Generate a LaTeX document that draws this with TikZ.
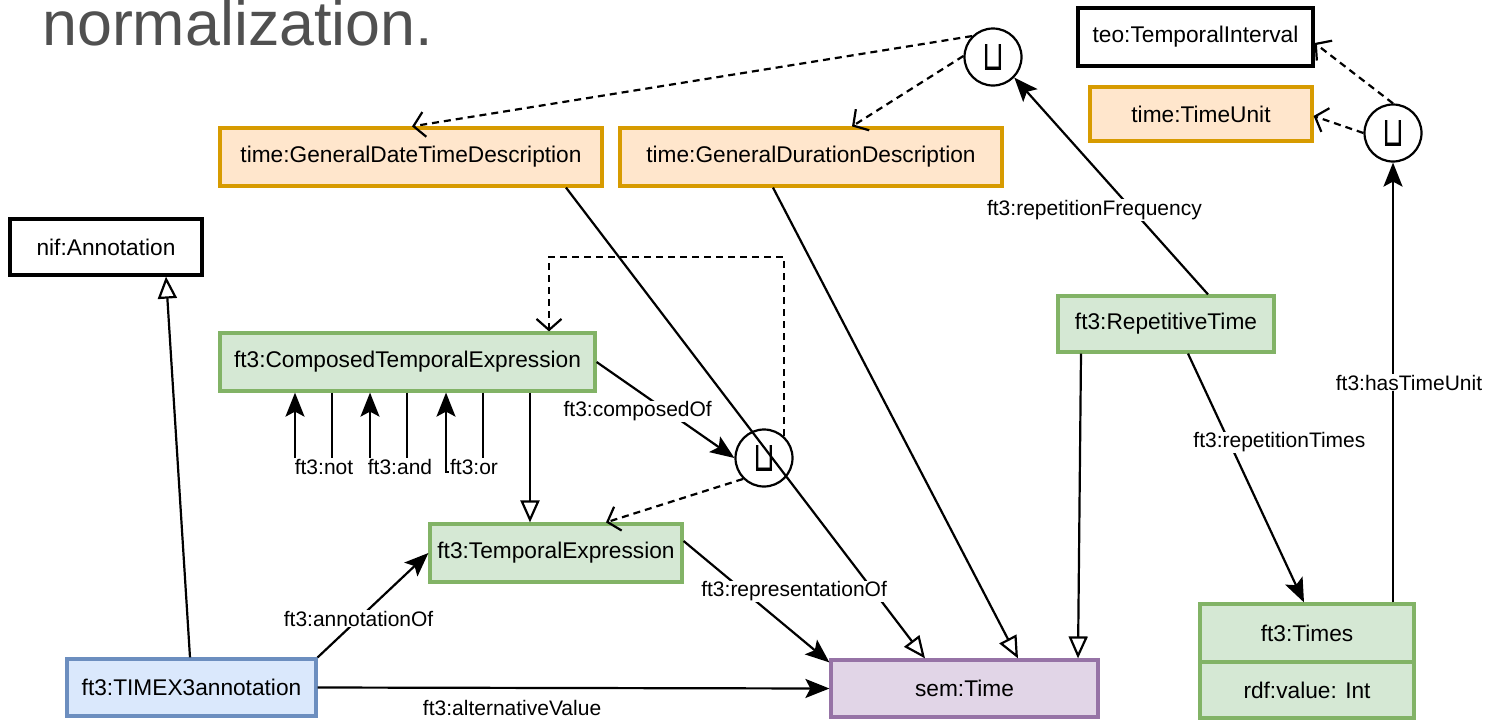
\documentclass[tikz,border=0pt]{standalone}
\usepackage{fontspec}
\setmainfont{Liberation Sans}
\newfontfamily\symfont{DejaVu Sans}
\usetikzlibrary{arrows.meta,calc}

\definecolor{orangeFill}{HTML}{FFE6CC}
\definecolor{orangeLine}{HTML}{D79B00}
\definecolor{greenFill}{HTML}{D5E8D4}
\definecolor{greenLine}{HTML}{82B366}
\definecolor{blueFill}{HTML}{DAE8FC}
\definecolor{blueLine}{HTML}{6C8EBF}
\definecolor{purpleFill}{HTML}{E1D5E7}
\definecolor{purpleLine}{HTML}{9673A6}
\definecolor{titleGray}{HTML}{505050}

\newcommand{\unionsym}{\resizebox{22pt}{26pt}{\symfont ⊔}}

\begin{document}
\begin{tikzpicture}[x=1pt,y=-1pt,
  box/.style={rectangle, line width=3.2pt, inner sep=0pt,
    font=\fontsize{22.7}{26}\selectfont, text=black},
  plainbox/.style={box, draw=black, fill=white},
  orangebox/.style={box, draw=orangeLine, fill=orangeFill},
  greenbox/.style={box, draw=greenLine, fill=greenFill},
  bluebox/.style={box, draw=blueLine, fill=blueFill},
  purplebox/.style={box, draw=purpleLine, fill=purpleFill},
  unionnode/.style={circle, draw=black, line width=2.2pt, minimum size=57pt, inner sep=0pt},
  lbl/.style={font=\fontsize{21}{24}\selectfont, fill=white, inner sep=1pt, text=black},
  edge/.style={line width=2.2pt, draw=black},
  assoc/.style={edge, -{Stealth[length=24pt, width=19pt, inset=5pt]}},
  subclass/.style={edge, -{Triangle[open, length=22pt, width=19pt, fill=white]}},
  unionedge/.style={edge, dash pattern=on 7pt off 5pt,
    -{Straight Barb[length=11pt, width=25pt, line width=2.2pt]}},
]
\useasboundingbox (0,0) rectangle (1499,721);
\fill[white] (0,0) rectangle (1499,721);

% heading fragment
\node[anchor=base west, inner sep=0pt, text=titleGray,
  font=\fontsize{62.8}{70}\selectfont] (title) at (42,45) {normalization.};

% classes
\node[plainbox, minimum width=235pt, minimum height=58pt] (teoTI) at (1195.5,37) {teo:TemporalInterval};
\node[orangebox, minimum width=222pt, minimum height=54pt] (timeTU) at (1201,114) {time:TimeUnit};
\node[orangebox, minimum width=382pt, minimum height=58pt] (gdtd) at (411,157) {time:GeneralDateTimeDescription};
\node[orangebox, minimum width=382pt, minimum height=58pt] (gdd) at (811,157) {time:GeneralDurationDescription};
\node[plainbox, minimum width=192pt, minimum height=56pt] (nifA) at (106,247) {nif:Annotation};
\node[greenbox, minimum width=375pt, minimum height=58pt] (cte) at (407.5,362) {ft3:ComposedTemporalExpression};
\node[greenbox, minimum width=216pt, minimum height=56pt] (rt) at (1166,324) {ft3:RepetitiveTime};
\node[greenbox, minimum width=252pt, minimum height=58pt] (te) at (556,553) {ft3:TemporalExpression};
\node[bluebox, minimum width=249pt, minimum height=57pt] (timex) at (191.5,687.5) {ft3:TIMEX3annotation};
\node[purplebox, minimum width=267pt, minimum height=57pt] (semT) at (964.5,688.5) {sem:Time};
\node[greenbox, minimum width=214pt, minimum height=58pt] (times) at (1307,633) {ft3:Times};
\node[greenbox, minimum width=214pt, minimum height=56pt] (rdfv) at (1307,690) {rdf:value: Int};

% union operators
\node[unionnode] (uTop) at (993,57) {\unionsym};
\node[unionnode] (uRight) at (1393,133) {\unionsym};
\node[unionnode] (uMid) at (764,458) {\unionsym};

% union members
\draw[unionedge] (uTop.135) -- ([xshift=1pt]gdtd.north);
\draw[unionedge] (uTop.178) -- ([xshift=41pt]gdd.north);
\draw[unionedge] (uRight.north) -- ([yshift=-6pt]teoTI.east);
\draw[unionedge] (uRight.west) -- ([yshift=-2pt]timeTU.east);
\draw[unionedge] (uMid.225) -- ([xshift=50pt]te.north);
\draw[unionedge] (uMid.48) -- ++(0,-179) -| ([xshift=141.5pt]cte.north);

% subclass relations
\draw[subclass] ([xshift=-85pt]rt.south) -- ([xshift=113.5pt]semT.north);
\draw[subclass] ([xshift=-38pt]gdd.south) -- ([xshift=53.5pt]semT.north);
\draw[subclass] ([xshift=155pt]gdtd.south) -- ([xshift=-39.5pt]semT.north);
\draw[subclass] ([xshift=-1.5pt]timex.north) -- ([xshift=60pt]nifA.south);
\draw[subclass] ([xshift=122.5pt]cte.south) -- ([xshift=-26pt]te.north);

% properties
\draw[assoc] ([xshift=86pt]times.north) -- (uRight.south)
  node[lbl, pos=0.5, xshift=16pt] {ft3:hasTimeUnit};
\draw[assoc] ([xshift=42pt]rt.north) -- (uTop.-44)
  node[lbl, pos=0.39, xshift=-38pt] {ft3:repetitionFrequency};
\draw[assoc] ([xshift=22pt]rt.south) -- ([xshift=-3pt]times.north)
  node[lbl, pos=0.357, xshift=50pt] {ft3:repetitionTimes};
\draw[assoc] (timex.north east) -- (te.west)
  node[lbl, pos=0.37] {ft3:annotationOf};
\draw[assoc] (timex.east) -- (semT.west)
  node[lbl, pos=0.38, yshift=-20pt] {ft3:alternativeValue};
\draw[assoc] ([yshift=12pt]te.east) -- ([yshift=-4pt]semT.north west)
  node[lbl, pos=0.415, xshift=50pt] {ft3:representationOf};
\draw[assoc] (cte.east) -- (uMid.west)
  node[lbl, pos=0.516, xshift=-30pt] {ft3:composedOf};

% operator self-relations
\draw[assoc] ([xshift=-75.5pt]cte.south) -- ++(0,79) -| ([xshift=-112.5pt]cte.south);
\draw[assoc] ([xshift=-0.5pt]cte.south) -- ++(0,79) -| ([xshift=-37.5pt]cte.south);
\draw[assoc] ([xshift=75.5pt]cte.south) -- ++(0,79) -| ([xshift=38.5pt]cte.south);
\node[lbl] (lNot) at (324,467) {ft3:not};
\node[lbl] (lAnd) at (400,467) {ft3:and};
\node[lbl] (lOr) at (474,467) {ft3:or};
\end{tikzpicture}
\end{document}
